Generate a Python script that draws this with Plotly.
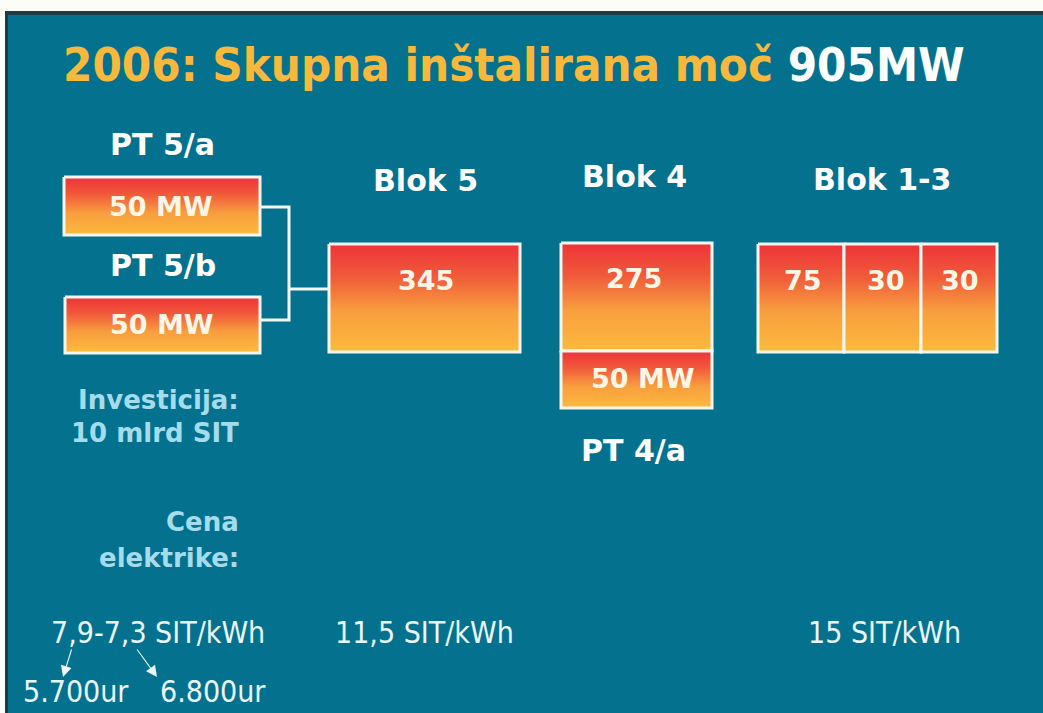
import plotly.graph_objects as go

# ---------------- data ----------------
title_text = "2006: Skupna inštalirana moč"
total_label = "905MW"
unit_labels = ["PT 5/a", "PT 5/b", "Blok 5", "Blok 4", "PT 4/a", "Blok 1", "Blok 2", "Blok 3"]
unit_values = [50, 50, 345, 275, 50, 75, 30, 30]
unit_suffix = [" MW", " MW", "", "", " MW", "", "", ""]
group_titles = ["PT 5/a", "PT 5/b", "Blok 5", "Blok 4", "Blok 1-3", "PT 4/a"]
investment_lines = ["Investicija:", "10 mlrd SIT"]
price_heading_lines = ["Cena", "elektrike:"]
price_labels = ["7,9-7,3 SIT/kWh", "11,5 SIT/kWh", "15 SIT/kWh"]
eur_labels = ["5.700ur", "6.800ur"]

# ---------------- layout (pixel space) ----------------
W, H = 1043, 713
box_rects = [(64, 177, 260, 235), (65, 297, 260, 353), (329, 244, 520, 352),
             (561, 243, 712, 351), (561, 351, 712, 408),
             (758, 244, 844, 352), (844, 244, 921, 352), (921, 244, 997, 352)]
box_text_pos = [(161, 206), (162, 324), (426, 280), (634, 278), (643, 378),
                (803, 280), (886, 280), (960, 280)]
group_title_pos = [(162, 144), (163, 265), (425, 180), (634, 176), (882, 179), (633, 450)]
price_pos = [(158, 632), (424, 632), (884, 632)]
eur_pos = [(76, 691), (213, 691)]

BG = "#04728F"
TEAL_TXT = "#A4DCEC"
TITLE_COL = "#F7B83C"
grad = [[0, "#EE3239"], [0.3, "#F05A3A"], [0.62, "#F89E3F"], [1, "#FCBA3C"]]

fig = go.Figure()

# boxes
for (x0, y0, x1, y1) in box_rects:
    fig.add_trace(go.Scatter(
        x=[x0, x1, x1, x0, x0], y=[y0, y0, y1, y1, y0],
        mode="lines", fill="toself",
        fillgradient=dict(type="vertical", colorscale=grad, start=y0, stop=y1),
        line=dict(color="#F4F6F0", width=3), hoverinfo="skip", showlegend=False))

# connector lines
conn = [([260, 289, 289, 260], [207, 207, 320, 320]), ([289, 329], [289, 289])]
for xs, ys in conn:
    fig.add_trace(go.Scatter(x=xs, y=ys, mode="lines",
                             line=dict(color="#F4F6F0", width=3),
                             hoverinfo="skip", showlegend=False))

ann = []
# title
ann.append(dict(x=61, y=64, xanchor="left", yanchor="middle",
                text=f"<b>{title_text} <span style='color:#FFFFFF'>{total_label}</span></b>",
                font=dict(family="DejaVu Sans Condensed, DejaVu Sans", size=47, color=TITLE_COL)))
# box values
for (x, y), v, s in zip(box_text_pos, unit_values, unit_suffix):
    ann.append(dict(x=x, y=y, text=f"<b>{v}{s}</b>",
                    font=dict(family="DejaVu Sans", size=27, color="#FFF6E6")))
# group titles
for (x, y), t in zip(group_title_pos, group_titles):
    ann.append(dict(x=x, y=y, text=f"<b>{t}</b>",
                    font=dict(family="DejaVu Sans", size=30, color="#FFFFFF")))
# investment / price heading
for i, t in enumerate(investment_lines):
    ann.append(dict(x=241, y=400 + i * 33, xanchor="right", text=f"<b>{t}</b>",
                    font=dict(family="DejaVu Sans", size=26, color=TEAL_TXT)))
for i, t in enumerate(price_heading_lines):
    ann.append(dict(x=241, y=522 + i * 36, xanchor="right", text=f"<b>{t}</b>",
                    font=dict(family="DejaVu Sans", size=26, color=TEAL_TXT)))
# prices
for (x, y), t in zip(price_pos, price_labels):
    ann.append(dict(x=x, y=y, text=t,
                    font=dict(family="DejaVu Sans Condensed, DejaVu Sans", size=30, color="#EAF6FA")))
for (x, y), t in zip(eur_pos, eur_labels):
    ann.append(dict(x=x, y=y, text=t,
                    font=dict(family="DejaVu Sans Condensed, DejaVu Sans", size=30, color="#EAF6FA")))
# small arrows
for (ax, ay, x, y) in [(72, 648, 63, 677), (136, 648, 157, 677)]:
    ann.append(dict(x=x, y=y, ax=ax, ay=ay, xref="x", yref="y", axref="x", ayref="y",
                    text="", showarrow=True, arrowhead=2, arrowsize=2, arrowwidth=1.1,
                    arrowcolor="#EAF6FA"))
for a in ann:
    a.setdefault("xref", "x")
    a.setdefault("yref", "y")
    a.setdefault("showarrow", False)

shapes = [
    dict(type="rect", xref="x", yref="y", x0=5, y0=11, x1=W + 5, y1=H + 5,
         fillcolor="#1E3A44", line=dict(width=0), layer="below"),
    dict(type="rect", xref="x", yref="y", x0=8, y0=15, x1=W + 5, y1=H + 5,
         fillcolor=BG, line=dict(width=0), layer="below"),
]

fig.update_layout(
    width=W, height=H, margin=dict(l=0, r=0, t=0, b=0),
    paper_bgcolor="#FDFDF8", plot_bgcolor="#FDFDF8",
    xaxis=dict(range=[0, W], visible=False, fixedrange=True),
    yaxis=dict(range=[H, 0], visible=False, fixedrange=True),
    annotations=ann, shapes=shapes, showlegend=False)

fig.write_html("out.html", config={"displayModeBar": False},
               post_script="document.body.style.margin='0';document.body.style.overflow='hidden';")
